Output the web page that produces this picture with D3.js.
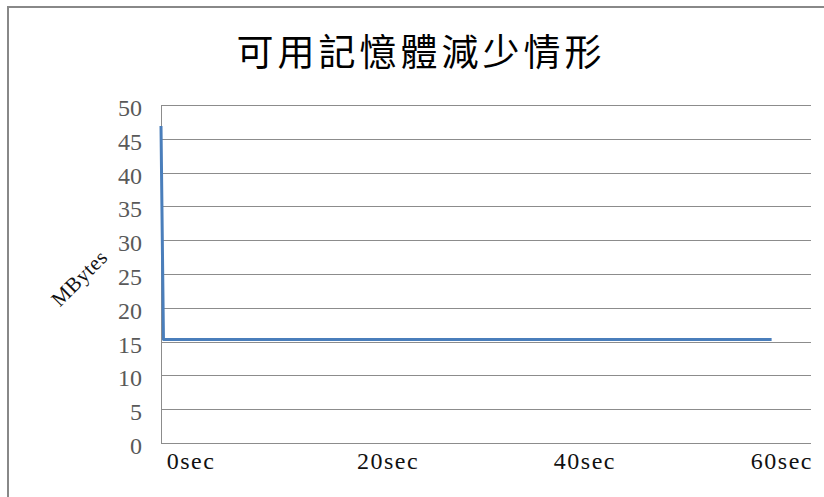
<!DOCTYPE html>
<html>
<head>
<meta charset="utf-8">
<script src="https://cdn.jsdelivr.net/npm/d3@7"></script>
<style>
  body { margin: 0; background: #fff; }
  text.serif { font-family: "Liberation Serif", "DejaVu Serif", serif; }
</style>
</head>
<body>
<div id="chart"></div>
<script>
const title = "可用記憶體減少情形";
const yLabel = "MBytes";
const seconds = [0, 0.25, 10, 20, 30, 40, 50, 62];
const freeMB = [46.9, 15.3, 15.3, 15.3, 15.3, 15.3, 15.3, 15.3];
const yTicks = [0, 5, 10, 15, 20, 25, 30, 35, 40, 45, 50];
const xTicks = [0, 20, 40, 60];
const xTickLabels = ["0sec", "20sec", "40sec", "60sec"];

const width = 824;
const height = 497;
const plot = { left: 161, right: 811, top: 105, bottom: 443 };

const svg = d3.select("#chart")
    .append("svg")
    .attr("width", width)
    .attr("height", height);

// outer chart frame (runs off the right and bottom edge)
svg.append("rect")
    .attr("x", 8)
    .attr("y", 7)
    .attr("width", 900)
    .attr("height", 600)
    .attr("fill", "none")
    .attr("stroke", "#888")
    .attr("stroke-width", 2);

const x = d3.scaleLinear()
    .domain([0, 66])
    .range([plot.left, plot.right]);

const y = d3.scaleLinear()
    .domain([0, 50])
    .range([plot.bottom, plot.top]);

// gridlines
svg.selectAll(".grid")
    .data(yTicks)
    .join("line")
    .attr("x1", plot.left)
    .attr("x2", plot.right)
    .attr("y1", d => Math.round(y(d)) + 0.5)
    .attr("y2", d => Math.round(y(d)) + 0.5)
    .attr("stroke", "#8c8c8c")
    .attr("stroke-width", 1);

// left axis line
svg.append("line")
    .attr("x1", plot.left + 0.5)
    .attr("x2", plot.left + 0.5)
    .attr("y1", plot.top)
    .attr("y2", plot.bottom)
    .attr("stroke", "#8c8c8c");

// y tick labels
svg.selectAll(".ylab")
    .data(yTicks)
    .join("text")
    .attr("class", "serif")
    .attr("x", 142)
    .attr("y", d => y(d) + 11)
    .attr("text-anchor", "end")
    .attr("font-size", 24)
    .attr("fill", "#595959")
    .text(d => d);

// x labels
svg.selectAll(".xlab")
    .data(xTicks)
    .join("text")
    .attr("class", "serif")
    .attr("x", d => x(d) + 30)
    .attr("y", 469)
    .attr("text-anchor", "middle")
    .attr("font-size", 24)
    .attr("letter-spacing", 1.5)
    .attr("fill", "#111")
    .text((d, i) => xTickLabels[i]);

// y title
svg.append("text")
    .attr("class", "serif")
    .attr("transform", "translate(79,278) rotate(-45)")
    .attr("text-anchor", "middle")
    .attr("dy", "0.35em")
    .attr("font-size", 21)
    .attr("letter-spacing", 0.5)
    .attr("fill", "#111")
    .text(yLabel);

// chart title
svg.append("text")
    .attr("x", 421)
    .attr("y", 66)
    .attr("text-anchor", "middle")
    .attr("font-family", "'Noto Sans CJK TC', sans-serif")
    .attr("font-size", 37)
    .attr("letter-spacing", 4)
    .attr("fill", "#000")
    .text(title);

// the series
const line = d3.line()
    .x((d, i) => x(seconds[i]))
    .y(d => y(d));

svg.append("path")
    .datum(freeMB)
    .attr("d", line)
    .attr("fill", "none")
    .attr("stroke", "#4a7ebb")
    .attr("stroke-width", 3)
    .attr("stroke-linejoin", "round");
</script>
</body>
</html>
